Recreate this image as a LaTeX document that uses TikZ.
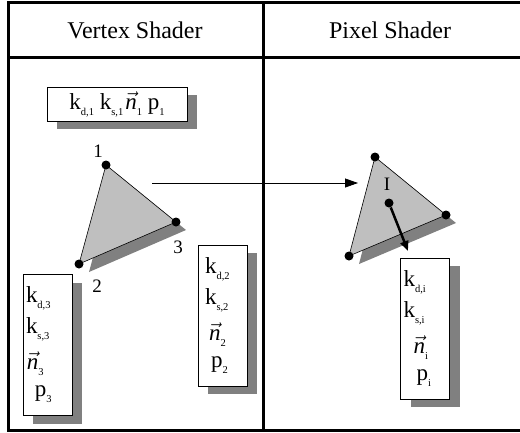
\documentclass[tikz,border=0pt]{standalone}
\usepackage{fontspec}
\setmainfont{Liberation Serif}
\usetikzlibrary{arrows.meta,shadows,calc}

\newcommand{\lowsub}[1]{\raisebox{-6pt}{\fontsize{10.5}{11}\selectfont #1}}
\newcommand{\nvec}{$\vec{\mbox{\itshape n}}$}

\begin{document}
\begin{tikzpicture}[x=1pt, y=-1pt,
    frame/.style={line width=3pt},
    title/.style={font=\fontsize{24}{28}\selectfont},
    attrbox/.style={draw, line width=0.8pt, fill=white, inner sep=2pt,
      font=\fontsize{23}{31}\selectfont,
      drop shadow={shadow xshift=10pt, shadow yshift=-8pt, fill=black!50, opacity=1}},
    attrcol/.style={attrbox, align=left, minimum width=49pt, minimum height=141pt,
      inner xsep=#1, text width=49pt-2*#1},
    vtx/.style={circle, fill=black, inner sep=0pt, minimum size=9pt},
    lbl/.style={font=\fontsize{19}{24}\selectfont, inner sep=0pt}]
  \useasboundingbox (0,0) rectangle (520,432);

  % table frame
  \draw[frame] (522,2.5) -- (8.5,2.5) -- (8.5,430.5) -- (522,430.5);
  \draw[frame] (8.5,57) -- (522,57);
  \draw[frame] (263,2.5) -- (263,430.5);
  \node[title] (vs) at (135,30) {Vertex Shader};
  \node[title] (ps) at (390,30) {Pixel Shader};

  % vertex shader side
  \node[attrbox, minimum width=140pt, minimum height=34pt] (attr1) at (117,104)
    {k\lowsub{d,1} k\lowsub{s,1}\kern2pt\nvec\lowsub{1} p\lowsub{1}};

  \coordinate (p1) at (106,165);
  \coordinate (p3) at (176,222);
  \coordinate (p2) at (79,264);
  \fill[black!50] ($(p1)+(10,8)$) -- ($(p3)+(10,8)$) -- ($(p2)+(10,8)$) -- cycle;
  \filldraw[fill=black!25, draw=black, line width=0.6pt] (p1) -- (p3) -- (p2) -- cycle;
  \node[vtx] (v1) at (p1) {};
  \node[vtx] (v3) at (p3) {};
  \node[vtx] (v2) at (p2) {};
  \node[lbl] (n1) at (98,151) {1};
  \node[lbl] (n3) at (178,247) {3};
  \node[lbl] (n2) at (97,286) {2};

  \node[attrcol=3pt] (attr3) at (47.5,345)
    {k\lowsub{d,3}\\ k\lowsub{s,3}\\[5pt] \hspace*{1pt}\nvec\lowsub{3}\\[-4pt] \hspace*{9pt}p\lowsub{3}};
  \node[attrcol=7pt] (attr2) at (222.5,315.5)
    {k\lowsub{d,2}\\ k\lowsub{s,2}\\[5pt] \hspace*{4pt}\nvec\lowsub{2}\\[-4pt] \hspace*{6pt}p\lowsub{2}};

  % pixel shader side
  \coordinate (q1) at (375,157);
  \coordinate (q3) at (446,215);
  \coordinate (q2) at (349,256);
  \fill[black!50] ($(q1)+(10,8)$) -- ($(q3)+(10,8)$) -- ($(q2)+(10,8)$) -- cycle;
  \filldraw[fill=black!25, draw=black, line width=0.6pt] (q1) -- (q3) -- (q2) -- cycle;
  \node[vtx] (w1) at (q1) {};
  \node[vtx] (w3) at (q3) {};
  \node[vtx] (w2) at (q2) {};
  \node[lbl] (ni) at (387,184) {I};
  \node[vtx] (ip) at (389,203) {};
  \coordinate (ie) at (408,251);
  \draw[line width=2.5pt, -{Triangle[length=10pt,width=8pt]}] (ip) -- (ie);

  \node[attrcol=3pt] (attri) at (425,328.5)
    {k\lowsub{d,i}\\ k\lowsub{s,i}\\[5pt] \hspace*{10pt}\nvec\lowsub{i}\\[-4pt] \hspace*{13pt}p\lowsub{i}};

  % interpolation arrow
  \coordinate (a0) at (152,183);
  \coordinate (a1) at (358,183);
  \draw[line width=0.8pt, -{Triangle[length=13pt,width=9pt]}] (a0) -- (a1);
\end{tikzpicture}
\end{document}
